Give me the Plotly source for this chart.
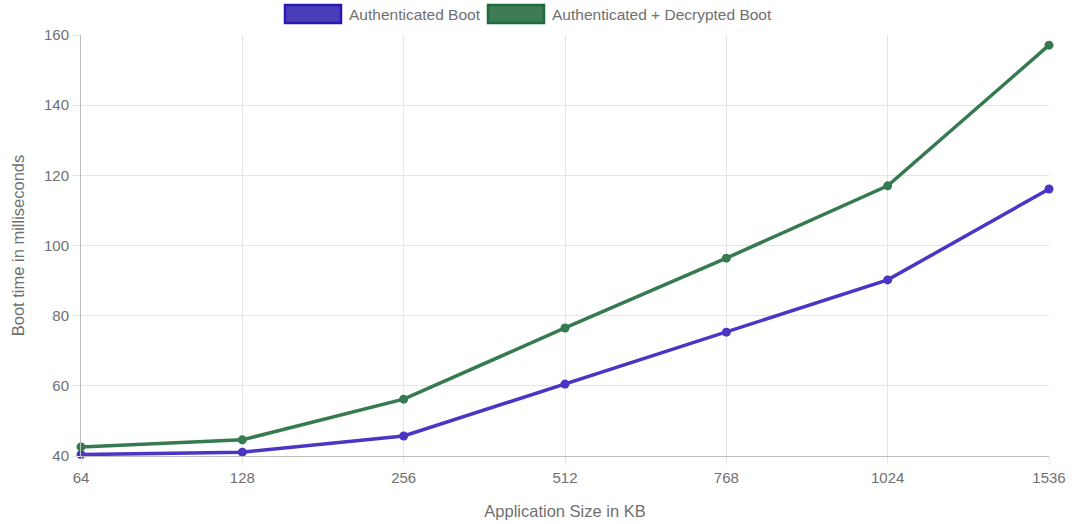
import plotly.graph_objects as go

sizes = ["64", "128", "256", "512", "768", "1024", "1536"]
auth_boot = [40.4, 41.1, 45.7, 60.5, 75.3, 90.2, 116.1]
auth_decrypt_boot = [42.6, 44.6, 56.2, 76.5, 96.4, 117.0, 157.1]
series_names = ["Authenticated Boot", "Authenticated + Decrypted Boot"]
y_ticks = [40, 60, 80, 100, 120, 140, 160]

line_colors = ["#4a35c4", "#367a4f"]
fill_colors = ["#4a3dbb", "#3f7c56"]
border_colors = ["#2a18b0", "#1f6b3a"]

FONT = "Liberation Sans, Arial, sans-serif"
GRAY = "#707070"
GRID = "#e5e5e5"

fig = go.Figure()
for name, vals, col in zip(series_names, [auth_boot, auth_decrypt_boot], line_colors):
    fig.add_trace(go.Scatter(
        x=sizes, y=vals, name=name, mode="lines+markers",
        line=dict(color=col, width=3.5),
        marker=dict(color=col, size=9),
        cliponaxis=False, showlegend=False,
    ))

# Chart.js-style legend boxes
L, R, T, B = 81, 24, 35, 68
W, H = 1073 - L - R, 524 - T - B

def px_x(p):
    return (p - L) / W

def px_y(p):
    return (524 - B - p) / H

legend_items = [(285, 341, 347), (488, 544, 550)]
for (x0, x1, tx), name, fc, bc in zip(legend_items, series_names, fill_colors, border_colors):
    fig.add_shape(type="rect", xref="paper", yref="paper",
                  x0=px_x(x0), x1=px_x(x1), y0=px_y(23), y1=px_y(5),
                  fillcolor=fc, line=dict(color=bc, width=2.5))
    fig.add_annotation(xref="paper", yref="paper", x=px_x(tx), y=px_y(14),
                       text=name, showarrow=False, xanchor="left", yanchor="middle",
                       font=dict(family=FONT, size=15.5, color=GRAY))

fig.update_layout(
    width=1073, height=524,
    margin=dict(l=L, r=R, t=T, b=B, autoexpand=False),
    paper_bgcolor="white", plot_bgcolor="white",
    font=dict(family=FONT, size=15, color=GRAY),
    showlegend=False,
    xaxis=dict(
        type="category", range=[0, len(sizes) - 1],
        showgrid=True, gridcolor=GRID, gridwidth=1,
        showline=True, linecolor="#bdbdbd", linewidth=1,
        ticks="outside", ticklen=8, tickcolor=GRID,
        tickfont=dict(family=FONT, size=15, color=GRAY),
        title=dict(text="Application Size in KB", standoff=20,
                   font=dict(family=FONT, size=16.5, color=GRAY)),
        zeroline=False, automargin=False,
    ),
    yaxis=dict(
        range=[40, 160], tickvals=y_ticks,
        showgrid=True, gridcolor=GRID, gridwidth=1,
        showline=True, linecolor="#bdbdbd", linewidth=1,
        ticks="outside", ticklen=8, tickcolor=GRID,
        tickfont=dict(family=FONT, size=15, color=GRAY),
        title=dict(text="Boot time in milliseconds", standoff=15,
                   font=dict(family=FONT, size=16.5, color=GRAY)),
        zeroline=False, automargin=False,
    ),
)

fig.write_html("out.html", config={"displayModeBar": False},
               post_script="document.body.style.margin='0';")
